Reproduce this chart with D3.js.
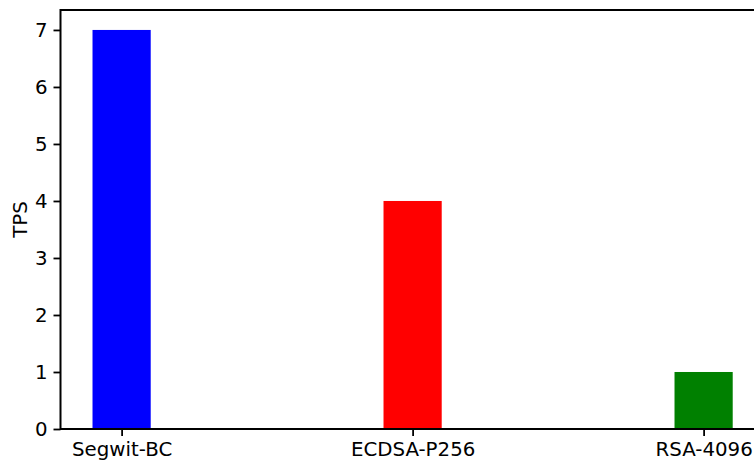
<!DOCTYPE html>
<html><head><meta charset="utf-8">
<script src="https://cdn.jsdelivr.net/npm/d3@7"></script>
<style>body{margin:0;background:#fff}svg{display:block}</style>
</head><body>
<script>
const categories = ["Segwit-BC", "ECDSA-P256", "RSA-4096"];
const values = [7, 4, 1];
const colors = ["#0000ff", "#ff0000", "#008000"];
const yTicks = [0, 1, 2, 3, 4, 5, 6, 7];

(function () {
const W = 754, H = 462;
const svg = d3.select("body").append("svg").attr("width", W).attr("height", H);
const mLeft = 60.5, mTop = 10, mBottom = 429;
const unit = 291;
const x = d3.scaleLinear().domain([-0.21, 2.21]).range([mLeft, mLeft + 2.42 * unit]);
const y = d3.scaleLinear().domain([0, 7.35]).range([mBottom, mTop]);
const bw = 0.2;

svg.selectAll("rect.bar").data(values).enter().append("rect")
  .attr("x", (d, i) => x(i - bw / 2))
  .attr("width", (d, i) => x(i + bw / 2) - x(i - bw / 2))
  .attr("y", d => y(d))
  .attr("height", d => y(0) - y(d))
  .attr("fill", (d, i) => colors[i]);

const font = "DejaVu Sans, sans-serif";
const fs = "19.8px";
const yAxis = svg.append("g").attr("transform", `translate(${mLeft},0)`)
  .call(d3.axisLeft(y).tickValues(yTicks).tickFormat(d3.format("d")).tickSize(7).tickPadding(6));
const xAxis = svg.append("g").attr("transform", `translate(0,${mBottom})`)
  .call(d3.axisBottom(x).tickValues([0, 1, 2]).tickFormat(i => categories[i]).tickSize(7).tickPadding(6));
[yAxis, xAxis].forEach(g => {
  g.select(".domain").remove();
  g.selectAll(".tick line").attr("stroke", "#000").attr("stroke-width", 1.8);
  g.selectAll("text").attr("fill", "#000").style("font-family", font).style("font-size", fs);
});

svg.append("rect").attr("x", mLeft).attr("y", mTop)
  .attr("width", x(2.21) - mLeft).attr("height", mBottom - mTop)
  .attr("fill", "none").attr("stroke", "#000").attr("stroke-width", 2);

svg.append("text").attr("transform", `translate(27,${(mTop + mBottom) / 2}) rotate(-90)`)
  .attr("text-anchor", "middle").style("font-family", font).style("font-size", fs)
  .text("TPS");
})();
</script>
</body></html>
